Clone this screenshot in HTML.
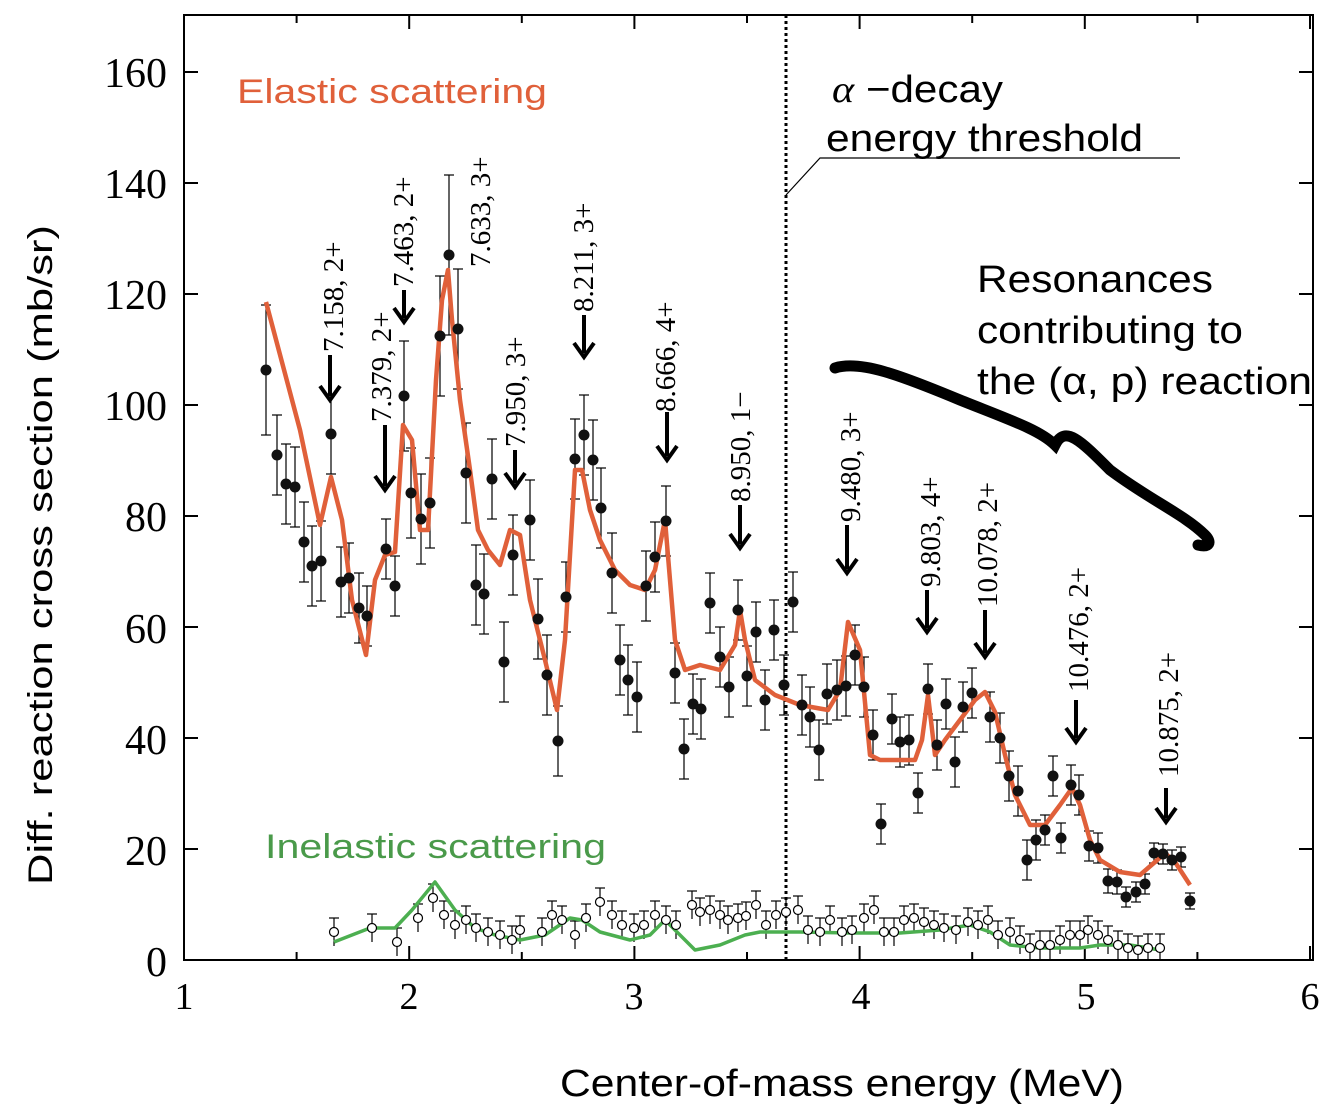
<!DOCTYPE html>
<html><head><meta charset="utf-8"><style>
html,body{margin:0;padding:0;background:#fff;}
svg{display:block;}
.s{font-family:"Liberation Serif",serif;}
.a{font-family:"Liberation Sans",sans-serif;}
</style></head><body>
<svg id="g" width="1330" height="1116" viewBox="0 0 1330 1116" xmlns="http://www.w3.org/2000/svg">
<rect x="184" y="15" width="1129" height="945" fill="none" stroke="#000" stroke-width="2"/>
<g id="ticks" stroke="#000" stroke-width="2"></g>
<g class="s" font-size="42" fill="#000" text-anchor="end">
<text x="167" y="87">160</text><text x="167" y="198">140</text><text x="167" y="309">120</text>
<text x="167" y="420">100</text><text x="167" y="531">80</text><text x="167" y="643">60</text>
<text x="167" y="754">40</text><text x="167" y="865">20</text><text x="167" y="976">0</text>
</g>
<g class="s" font-size="38" fill="#000" text-anchor="middle">
<text x="184" y="1009">1</text><text x="409" y="1009">2</text><text x="634" y="1009">3</text>
<text x="861" y="1009">4</text><text x="1086" y="1009">5</text><text x="1310" y="1009">6</text>
</g>
<text class="a" x="560" y="1096" font-size="38" textLength="564" lengthAdjust="spacingAndGlyphs">Center-of-mass energy (MeV)</text>
<text class="a" transform="translate(52,885) rotate(-90)" font-size="34" textLength="660" lengthAdjust="spacingAndGlyphs">Diff. reaction cross section  (mb/sr)</text>
<text class="a" x="237" y="103" font-size="34" fill="#e0603a" textLength="310" lengthAdjust="spacingAndGlyphs">Elastic scattering</text>
<text class="a" x="265" y="858" font-size="34" fill="#4a9a4a" textLength="341" lengthAdjust="spacingAndGlyphs">Inelastic scattering</text>
<text x="832" y="102" font-size="38" class="a" textLength="171" lengthAdjust="spacingAndGlyphs"><tspan font-style="italic" class="s">α</tspan> −decay</text>
<text class="a" x="826" y="151" font-size="38" textLength="317" lengthAdjust="spacingAndGlyphs">energy threshold</text>
<polyline points="786,195 820,158 1180,158" fill="none" stroke="#000" stroke-width="1.2"/>
<line x1="786" y1="15" x2="786" y2="960" stroke="#000" stroke-width="3" stroke-dasharray="3,3"/>
<text class="a" x="977" y="292" font-size="38" textLength="236" lengthAdjust="spacingAndGlyphs">Resonances</text>
<text class="a" x="977" y="343" font-size="38" textLength="266" lengthAdjust="spacingAndGlyphs">contributing to</text>
<text class="a" x="977" y="394" font-size="38" textLength="335" lengthAdjust="spacingAndGlyphs">the (α, p) reaction</text>
<path d="M835,368 C860,360 900,375 960,400 C1010,420 1040,430 1055,445 C1065,425 1080,440 1110,470 C1150,500 1185,515 1205,535 C1212,542 1210,548 1198,545" fill="none" stroke="#000" stroke-width="11" stroke-linecap="round"/>
<g id="err" stroke="#000" stroke-width="1.2"></g>
<polyline fill="none" stroke="#e0603a" stroke-width="4.5" stroke-linejoin="round" points="266,302 300,430 320,525 331,477 342,520 352,600 366,655 375,580 385,555 395,552 403,425 412,440 420,530 428,530 436,380 442,300 448,270 452,320 460,400 470,470 478,530 488,550 500,565 510,530 520,535 530,600 545,660 557,710 565,640 575,470 582,470 590,510 600,540 615,570 630,585 645,590 655,570 665,520 670,580 675,640 685,670 700,665 720,670 735,645 740,610 745,640 755,680 775,695 800,705 828,710 840,690 848,622 860,650 870,755 880,760 915,760 922,740 928,695 935,755 945,740 960,720 975,700 985,692 995,712 1005,755 1015,795 1030,825 1045,825 1060,805 1072,788 1080,805 1090,840 1100,860 1120,872 1140,875 1155,862 1165,853 1175,862 1190,885"/>
<polyline fill="none" stroke="#4caf50" stroke-width="3.5" stroke-linejoin="round" points="334,942 370,928 395,928 412,910 435,882 455,910 475,928 495,935 520,940 545,935 570,918 582,920 600,932 630,940 650,935 665,920 680,935 695,950 720,945 745,935 760,932 800,932 850,933 900,933 940,930 970,925 990,932 1010,945 1040,948 1080,948 1100,945 1130,945 1160,950"/>
<g id="pts"></g>
<g id="arr" stroke="#000" stroke-width="4" fill="#000"></g>
<g class="s" font-size="29" fill="#000">
<text transform="translate(343,352) rotate(-90)">7.158, 2+</text>
<text transform="translate(391,422) rotate(-90)">7.379, 2+</text>
<text transform="translate(413,287) rotate(-90)">7.463, 2+</text>
<text transform="translate(490,267) rotate(-90)">7.633, 3+</text>
<text transform="translate(525,447) rotate(-90)">7.950, 3+</text>
<text transform="translate(593,312) rotate(-90)">8.211, 3+</text>
<text transform="translate(675,412) rotate(-90)">8.666, 4+</text>
<text transform="translate(750,502) rotate(-90)">8.950, 1−</text>
<text transform="translate(860,522) rotate(-90)">9.480, 3+</text>
<text transform="translate(940,587) rotate(-90)">9.803, 4+</text>
<text transform="translate(997,607) rotate(-90)">10.078, 2+</text>
<text transform="translate(1088,692) rotate(-90)">10.476, 2+</text>
<text transform="translate(1178,777) rotate(-90)">10.875, 2+</text>
</g>
</svg>
<script>
var NS="http://www.w3.org/2000/svg";
function el(p,t,a){var e=document.createElementNS(NS,t);for(var k in a)e.setAttribute(k,a[k]);p.appendChild(e);return e;}
var tk=document.getElementById("ticks");
for(var i=0;i<=8;i++){var y=960-i*111;el(tk,"line",{x1:184,y1:y,x2:198,y2:y});el(tk,"line",{x1:1313,y1:y,x2:1299,y2:y});}
for(var i=0;i<=10;i++){var x=184+i*112.6;var L=i%2?8:14;el(tk,"line",{x1:x,y1:960,x2:x,y2:960-L});el(tk,"line",{x1:x,y1:15,x2:x,y2:15+L});}
var E=[[266,370,65],[277,455,40],[286,484,40],[295,487,40],[304,542,40],[312,566,40],[321,561,40],[331,434,40],[341,582,35],[349,578,35],[359,608,35],[367,616,30],[386,549,30],[395,586,30],[404,396,55],[411,493,45],[421,519,45],[430,503,45],[440,336,60],[449,255,80],[458,329,60],[466,473,50],[476,585,40],[484,594,40],[492,479,40],[504,662,40],[513,555,40],[530,520,40],[538,619,40],[547,675,40],[558,741,35],[566,597,35],[575,459,40],[584,435,40],[593,460,40],[601,508,40],[612,573,40],[620,660,35],[628,680,35],[637,697,35],[646,586,35],[655,557,35],[666,521,35],[675,673,30],[684,749,30],[693,704,30],[701,709,30],[710,603,30],[720,657,30],[729,687,30],[738,610,30],[747,676,30],[756,632,30],[765,700,30],[774,630,30],[784,685,30],[793,602,30],[802,705,30],[810,717,30],[819,750,30],[827,694,30],[837,690,30],[846,686,30],[855,655,30],[864,687,30],[873,735,25],[881,824,20],[892,719,25],[900,742,25],[909,740,25],[918,793,20],[928,689,25],[937,745,25],[946,704,25],[955,762,25],[963,707,25],[972,693,25],[990,717,25],[1000,738,25],[1009,776,25],[1018,791,25],[1027,860,20],[1036,840,20],[1045,830,15],[1053,776,20],[1061,838,15],[1071,785,20],[1079,795,20],[1089,846,15],[1098,848,15],[1108,881,12],[1117,882,12],[1126,897,10],[1136,892,10],[1145,884,10],[1154,853,10],[1163,854,10],[1172,860,10],[1181,857,10],[1190,901,8]];
var er=document.getElementById("err"),pt=document.getElementById("pts");
E.forEach(function(p){el(er,"line",{x1:p[0],y1:p[1]-p[2],x2:p[0],y2:p[1]+p[2]});el(er,"line",{x1:p[0]-5,y1:p[1]-p[2],x2:p[0]+5,y2:p[1]-p[2]});el(er,"line",{x1:p[0]-5,y1:p[1]+p[2],x2:p[0]+5,y2:p[1]+p[2]});el(pt,"circle",{cx:p[0],cy:p[1],r:5.5,fill:"#111"});});
var O=[[334,932],[372,928],[397,942],[418,918],[433,898],[444,915],[455,925],[466,920],[476,928],[488,932],[500,935],[512,940],[520,930],[542,932],[552,915],[562,920],[575,935],[586,918],[600,902],[612,915],[622,925],[634,928],[644,925],[655,915],[666,920],[676,925],[692,905],[700,912],[710,910],[720,915],[728,920],[738,918],[746,916],[756,905],[766,925],[776,915],[786,912],[798,910],[808,930],[820,932],[830,920],[842,932],[852,930],[864,918],[874,910],[884,932],[894,932],[904,920],[914,918],[924,922],[934,925],[944,928],[956,930],[968,922],[978,925],[988,920],[998,935],[1010,932],[1020,940],[1030,948],[1040,945],[1050,945],[1060,940],[1070,935],[1080,935],[1088,930],[1098,935],[1108,940],[1118,945],[1128,948],[1138,950],[1148,948],[1160,948]];
O.forEach(function(p){var e=14;el(er,"line",{x1:p[0],y1:p[1]-e,x2:p[0],y2:Math.min(p[1]+e,960)});el(er,"line",{x1:p[0]-5,y1:p[1]-e,x2:p[0]+5,y2:p[1]-e});el(pt,"circle",{cx:p[0],cy:p[1],r:4.5,fill:"#fff",stroke:"#000","stroke-width":1.2});});
var A=[[330,355,400],[385,425,490],[404,290,322],[584,315,357],[515,450,487],[667,412,460],[740,505,548],[847,525,573],[927,590,632],[985,610,657],[1076,700,742],[1166,788,822]];
var ar=document.getElementById("arr");
A.forEach(function(a){el(ar,"line",{x1:a[0],y1:a[1],x2:a[0],y2:a[2]-4});el(ar,"polyline",{points:(a[0]-10)+","+(a[2]-14)+" "+a[0]+","+a[2]+" "+(a[0]+10)+","+(a[2]-14),fill:"none"});});
</script>
</body></html>
